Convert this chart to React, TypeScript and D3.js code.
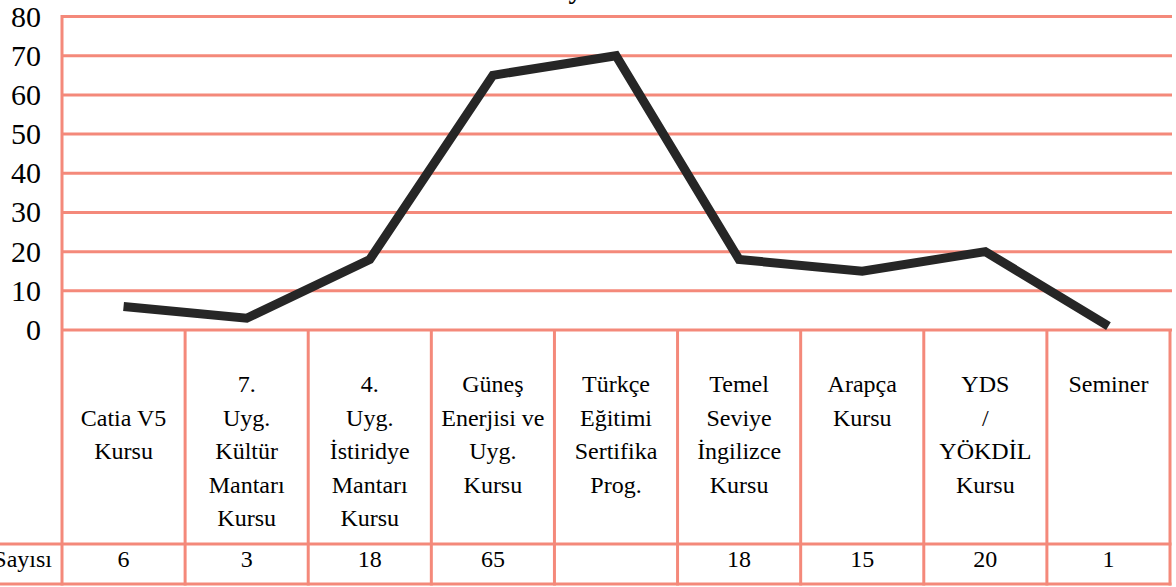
import React from "react";
import * as d3 from "d3";

const categories: string[][] = [
  ["", "Catia V5", "Kursu"],
  ["7.", "Uyg.", "Kültür", "Mantarı", "Kursu"],
  ["4.", "Uyg.", "İstiridye", "Mantarı", "Kursu"],
  ["Güneş", "Enerjisi ve", "Uyg.", "Kursu"],
  ["Türkçe", "Eğitimi", "Sertifika", "Prog."],
  ["Temel", "Seviye", "İngilizce", "Kursu"],
  ["Arapça", "Kursu"],
  ["YDS", "/", "YÖKDİL", "Kursu"],
  ["Seminer"],
];
const values: number[] = [6, 3, 18, 65, 70, 18, 15, 20, 1];
const tableLabels: string[] = ["6", "3", "18", "65", "", "18", "15", "20", "1"];
const yTicks: number[] = [0, 10, 20, 30, 40, 50, 60, 70, 80];
const seriesName = "Katılımcı Sayısı";
const title = "Katılımcı Sayısı";

const W = 1176;
const H = 587;
const GRID = "#F4897A";
const FONT = `"Liberation Serif", "Times New Roman", Tinos, serif`;

export default function App() {
  const left = 62;
  const right = 1170;
  const y = d3.scaleLinear().domain([0, 80]).range([330, 16.5]);
  const x = d3
    .scaleBand<number>()
    .domain(categories.map((_, i) => i))
    .range([left, right]);
  const bw = x.bandwidth();
  const headerBottom = 544;
  const tableBottom = 584;
  const lineGen = d3
    .line<number>()
    .x((_, i) => (x(i) as number) + bw / 2)
    .y((d) => y(d));

  return (
    <div style={{ position: "absolute", left: 0, top: 0, width: W, height: H, background: "#fff", fontFamily: FONT }}>
      <style>{`svg text, svg tspan { font-family: "Liberation Serif", "Times New Roman", Tinos, serif !important; }`}</style>
      <svg width={W} height={H} style={{ display: "block" }}>
        <rect x={0} y={0} width={W} height={H} fill="#fff" />
        <text x={420} y={-2} fontSize={28} fontWeight="bold" fill="#000">
          {title}
        </text>
        {yTicks.map((t) => (
          <g key={t}>
            <line x1={left} x2={1172} y1={y(t)} y2={y(t)} stroke={GRID} strokeWidth={3} />
            <text x={41} y={y(t) + 10} fontSize={30} textAnchor="end" fill="#000">
              {t}
            </text>
          </g>
        ))}
        <line x1={left} x2={left} y1={y(80) - 1.5} y2={tableBottom + 1.5} stroke={GRID} strokeWidth={3} />
        {categories.map((_, i) => (
          <line
            key={"v" + i}
            x1={(x(i) as number) + bw}
            x2={(x(i) as number) + bw}
            y1={y(0)}
            y2={tableBottom + 1.5}
            stroke={GRID}
            strokeWidth={3}
          />
        ))}
        <line x1={-200} x2={right + 1.5} y1={headerBottom} y2={headerBottom} stroke={GRID} strokeWidth={3} />
        <line x1={-200} x2={right + 1.5} y1={tableBottom} y2={tableBottom} stroke={GRID} strokeWidth={3} />
        {categories.map((lines, i) =>
          lines.map((l, k) => (
            <text
              key={"c" + i + "_" + k}
              x={(x(i) as number) + bw / 2}
              y={392 + k * 33.6}
              fontSize={24}
              textAnchor="middle"
              fill="#000"
            >
              {l}
            </text>
          ))
        )}
        {tableLabels.map((l, i) => (
          <text key={"t" + i} x={(x(i) as number) + bw / 2} y={567} fontSize={24} textAnchor="middle" fill="#000">
            {l}
          </text>
        ))}
        <text x={52} y={567} fontSize={24} textAnchor="end" fill="#000">
          {seriesName}
        </text>
        <path
          d={lineGen(values) || ""}
          fill="none"
          stroke="#262626"
          strokeWidth={9}
          strokeLinejoin="miter"
        />
      </svg>
    </div>
  );
}
